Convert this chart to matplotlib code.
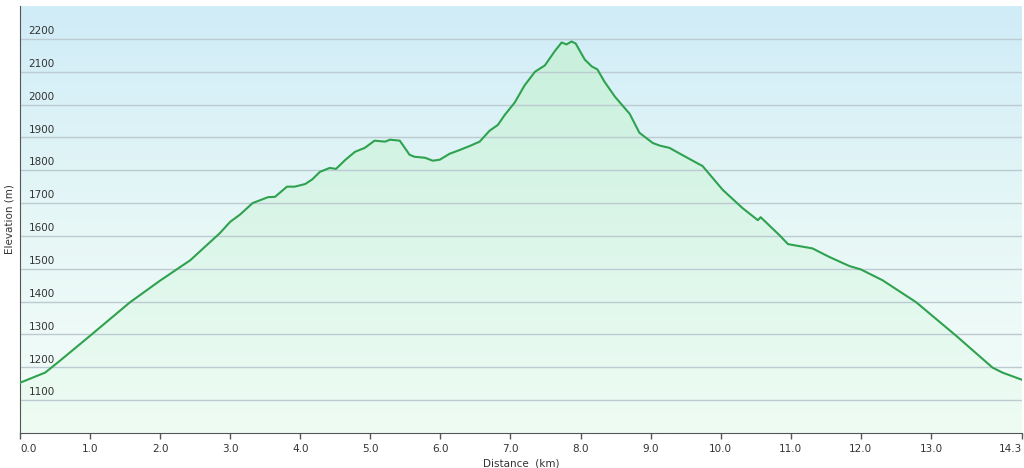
import numpy as np
import matplotlib.pyplot as plt
from matplotlib.colors import LinearSegmentedColormap
from matplotlib.transforms import blended_transform_factory

# elevation profile
dist_km = [0.0, 0.36, 0.57, 1.0, 1.57, 2.0, 2.43, 2.85, 3.0, 3.14, 3.32, 3.54, 3.64,
           3.81, 3.92, 4.07, 4.17, 4.28, 4.42, 4.51, 4.64, 4.78, 4.92, 5.06, 5.21,
           5.28, 5.42, 5.56, 5.63, 5.78, 5.89, 5.99, 6.13, 6.28, 6.42, 6.56, 6.70, 6.82,
           6.92, 7.06, 7.2, 7.35, 7.49, 7.63, 7.73, 7.8, 7.87, 7.93, 8.06, 8.16, 8.24,
           8.34, 8.49, 8.70, 8.84, 9.03, 9.13, 9.27, 9.37, 9.66, 9.74, 10.03, 10.31,
           10.53, 10.57, 10.84, 10.96, 11.31, 11.55, 11.84, 12.0, 12.31, 12.79, 13.36,
           13.88, 14.02, 14.3]
elev_m = [1153, 1184, 1220, 1296, 1398, 1464, 1526, 1608, 1643, 1665, 1700, 1718, 1719,
          1750, 1750, 1758, 1772, 1795, 1807, 1804, 1831, 1856, 1868, 1890, 1887,
          1893, 1890, 1847, 1841, 1838, 1829, 1832, 1850, 1862, 1874, 1887, 1920, 1938,
          1969, 2006, 2058, 2100, 2119, 2162, 2189, 2183, 2192, 2186, 2137, 2116, 2107,
          2070, 2024, 1972, 1914, 1883, 1875, 1868, 1856, 1822, 1813, 1740, 1685,
          1648, 1657, 1602, 1575, 1562, 1536, 1508, 1498, 1465, 1398, 1296,
          1199, 1184, 1162]
y_ticks = [1100, 1200, 1300, 1400, 1500, 1600, 1700, 1800, 1900, 2000, 2100, 2200]
x_ticks = [0, 1, 2, 3, 4, 5, 6, 7, 8, 9, 10, 11, 12, 13, 14.3]

xmin, xmax, ymin, ymax = 0, 14.3, 1000, 2300

fig = plt.figure(figsize=(10.24, 4.68), dpi=100)
ax = fig.add_axes([20 / 1024, 35 / 468, 1002 / 1024, 427 / 468])

# background gradient: light blue top, near white/green bottom
bg = LinearSegmentedColormap.from_list('bg', ['#f4fdf9', '#e6f7f6', '#d0ecf8'])
grad = np.linspace(0, 1, 256).reshape(-1, 1)
ax.imshow(grad, cmap=bg, aspect='auto', origin='lower',
          extent=[xmin, xmax, ymin, ymax], zorder=0)

# area under profile: green gradient clipped to the polygon
fillc = LinearSegmentedColormap.from_list('fill', ['#effcf4', '#dcf6ea', '#c8f0dc'])
im = ax.imshow(grad, cmap=fillc, aspect='auto', origin='lower',
               extent=[xmin, xmax, ymin, max(elev_m)], zorder=1)
poly = ax.fill_between(dist_km, elev_m, ymin, color='none', lw=0)
path = poly.get_paths()[0]
im.set_clip_path(path, transform=ax.transData)

for v in y_ticks:
    ax.axhline(v, color='#bccbd2', lw=1.0, zorder=2)

ax.plot(dist_km, elev_m, color='#2ea24e', lw=1.5, zorder=3)

ax.set_xlim(xmin, xmax)
ax.set_ylim(ymin, ymax)

# y labels drawn inside the plot, sitting above each gridline
tr = blended_transform_factory(ax.transAxes, ax.transData)
for v in y_ticks:
    ax.annotate(str(v), xy=(0, v), xycoords=tr, xytext=(6, 2), textcoords='offset points',
                fontsize=7.5, color='#333333', va='bottom', ha='left', zorder=4)
ax.set_yticks([])

ax.set_xticks(x_ticks)
labels = ax.set_xticklabels([f'{t:.1f}' for t in x_ticks], fontsize=7.5, color='#333333')
labels[0].set_ha('left')
labels[-1].set_ha('right')
ax.tick_params(axis='x', direction='out', length=4, width=1, color='#555555', pad=4)

for s in ['top', 'right']:
    ax.spines[s].set_visible(False)
ax.spines['left'].set_color('#555555')
ax.spines['bottom'].set_color('#555555')

ax.set_xlabel('Distance  (km)', fontsize=7.5, color='#333333', labelpad=3)
ax.set_ylabel('Elevation (m)', fontsize=7.5, color='#333333', labelpad=4)

fig.savefig('out.png', dpi=100)
